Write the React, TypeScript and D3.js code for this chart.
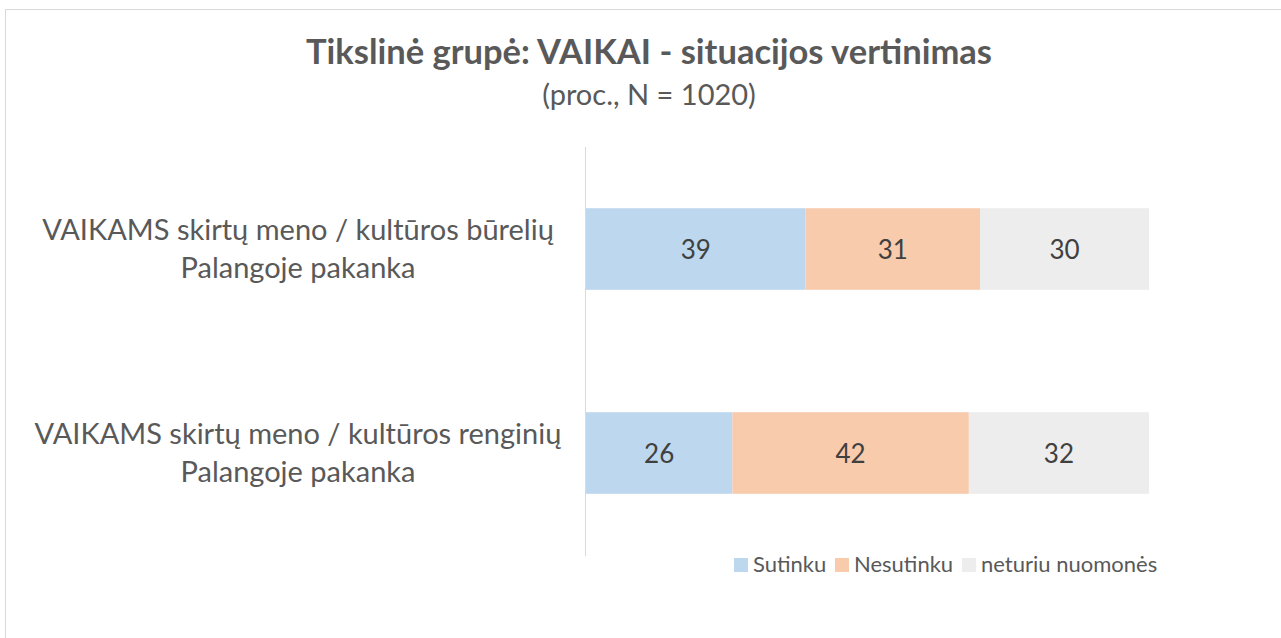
import React from "react";
import * as d3 from "d3";

const title = "Tikslinė grupė: VAIKAI - situacijos vertinimas";
const subtitle = "(proc., N = 1020)";
const categories = [
  ["VAIKAMS skirtų meno / kultūros būrelių", "Palangoje pakanka"],
  ["VAIKAMS skirtų meno / kultūros renginių", "Palangoje pakanka"],
];
const seriesNames = ["Sutinku", "Nesutinku", "neturiu nuomonės"];
const sutinku = [39, 26];
const nesutinku = [31, 42];
const neturiu = [30, 32];
const colors = ["#BDD7EE", "#F8CBAD", "#EDEDED"];

const W = 1281;
const H = 638;
const FONT = "Lato, 'Open Sans', sans-serif";

export default function App() {
  const keys = categories.map((c) => c.join(" "));
  const rows = keys.map((k, i) => ({ key: k, s0: sutinku[i], s1: nesutinku[i], s2: neturiu[i] }));
  const stack = d3.stack<any>().keys(["s0", "s1", "s2"])(rows);

  const x = d3.scaleLinear().domain([0, 100]).range([586, 1149]);
  const y = d3.scaleBand().domain(keys).range([147, 555]).paddingInner(0.6).paddingOuter(0.3);

  const legendItems = [
    { name: seriesNames[0], sx: 734, tx: 753 },
    { name: seriesNames[1], sx: 835, tx: 854 },
    { name: seriesNames[2], sx: 962, tx: 981 },
  ];

  return (
    <svg
      width={W}
      height={H}
      style={{ position: "fixed", left: 0, top: 0, background: "#fff" }}
      fontFamily={FONT}
    >
      <rect x={0} y={0} width={W} height={H} fill="#fff" />
      <rect x={5.5} y={9.5} width={W + 20} height={H + 20} fill="#fff" stroke="#D9D9D9" strokeWidth={1} />
      <text x={649} y={64} textAnchor="middle" fontSize={34.5} fontWeight={700} fill="#595959">
        {title}
      </text>
      <text x={649} y={105} textAnchor="middle" fontSize={29} fill="#595959">
        {subtitle}
      </text>

      {stack.map((layer, li) => (
        <g key={li}>
          {layer.map((d: any, i: number) => {
            const k = keys[i];
            const x0 = x(d[0]);
            const x1 = x(d[1]);
            const yy = y(k)!;
            return (
              <g key={i}>
                <rect x={x0} y={yy} width={x1 - x0} height={y.bandwidth()} fill={colors[li]} />
                <text
                  x={(x0 + x1) / 2}
                  y={yy + y.bandwidth() / 2}
                  dy="0.38em"
                  textAnchor="middle"
                  fontSize={26}
                  fill="#404040"
                >
                  {d[1] - d[0]}
                </text>
              </g>
            );
          })}
        </g>
      ))}

      <line x1={585.5} x2={585.5} y1={147} y2={556} stroke="#D9D9D9" strokeWidth={1} />

      {categories.map((lines, i) => {
        const c = y(keys[i])! + y.bandwidth() / 2;
        return (
          <text key={i} x={298} textAnchor="middle" fontSize={29} fill="#595959">
            <tspan x={298} y={c - 9}>{lines[0]}</tspan>
            <tspan x={298} y={c + 29}>{lines[1]}</tspan>
          </text>
        );
      })}

      {legendItems.map((it, i) => (
        <g key={i}>
          <rect x={it.sx} y={558} width={14} height={14} fill={colors[i]} />
          <text x={it.tx} y={572} fontSize={22} fill="#595959">
            {it.name}
          </text>
        </g>
      ))}
    </svg>
  );
}
